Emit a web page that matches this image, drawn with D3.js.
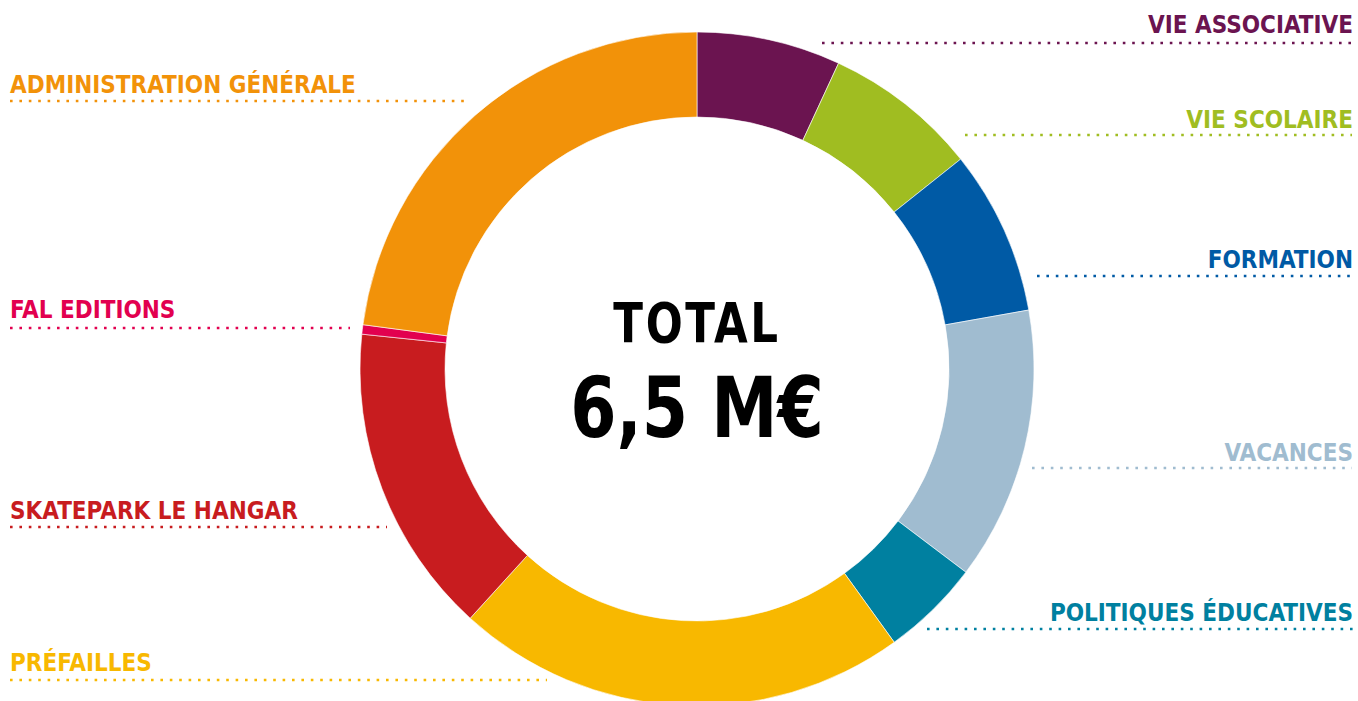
<!DOCTYPE html>
<html>
<head>
<meta charset="utf-8">
<script src="https://cdn.jsdelivr.net/npm/d3@7"></script>
<style>
  body { margin: 0; background: #fff; }
  svg { display: block; }
  text { font-family: "DejaVu Sans Condensed", "DejaVu Sans", sans-serif; font-weight: bold; }
</style>
</head>
<body>
<div class="container"></div>
<script>
// budget split, clockwise from 12 o'clock (share of total, %)
const categories = ["VIE ASSOCIATIVE", "VIE SCOLAIRE", "FORMATION", "VACANCES",
    "POLITIQUES ÉDUCATIVES", "PRÉFAILLES", "SKATEPARK LE HANGAR", "FAL EDITIONS",
    "ADMINISTRATION GÉNÉRALE"];
const values = [6.9, 7.4, 7.9, 13.1, 4.75, 21.7, 14.9, 0.45, 22.9];
const colors = ["#6b1450", "#a0bd21", "#005aa5", "#a0bcd0", "#0080a0", "#f8b800",
    "#c81c1f", "#e2004f", "#f29209"];
const totalLabel = ["TOTAL", "6,5 M€"];

// label layout: side, text baseline, dotted line y, line start / end
const labelLayout = [
    {side: "right", y: 33, ly: 43, x0: 822, x1: 1352},
    {side: "right", y: 128, ly: 135, x0: 965, x1: 1352},
    {side: "right", y: 268, ly: 276, x0: 1037, x1: 1352},
    {side: "right", y: 461, ly: 468, x0: 1032, x1: 1352},
    {side: "right", y: 621, ly: 629, x0: 927, x1: 1354},
    {side: "left", y: 671, ly: 680, x0: 10, x1: 547},
    {side: "left", y: 519, ly: 527, x0: 10, x1: 387},
    {side: "left", y: 318, ly: 328, x0: 10, x1: 350},
    {side: "left", y: 93, ly: 101, x0: 10, x1: 470}
];

const width = 1358,
    height = 701,
    cx = 697,
    cy = 369,
    outerR = 337,
    innerR = 252;

const data = categories.map((c, i) => ({name: c, value: values[i], color: colors[i], lay: labelLayout[i]}));

const svg = d3.select('.container').append('svg')
    .attr('width', width)
    .attr('height', height);

const pie = d3.pie().sort(null).value(d => d.value).startAngle(0).endAngle(2 * Math.PI);
const arc = d3.arc().innerRadius(innerR).outerRadius(outerR);

const donut = svg.append('g').attr('transform', `translate(${cx},${cy})`);
donut.selectAll('path').data(pie(data)).enter().append('path')
    .attr('d', arc)
    .attr('fill', d => d.data.color)
    .attr('stroke', '#fff')
    .attr('stroke-width', 0.6);

// centre total (condensed a bit to match the original typeface)
const centre = donut.append('g').attr('transform', 'scale(0.88,1)');
centre.append('text')
    .attr('text-anchor', 'middle')
    .attr('y', -27)
    .attr('font-size', '55px')
    .attr('letter-spacing', '3px')
    .attr('fill', '#000')
    .text(totalLabel[0]);
centre.append('text')
    .attr('text-anchor', 'middle')
    .attr('y', 68)
    .attr('font-size', '84px')
    .attr('fill', '#000')
    .text(totalLabel[1]);

// labels + dotted leaders
const labels = svg.append('g').selectAll('g').data(data).enter().append('g');

labels.append('line')
    .attr('x1', d => d.lay.x0)
    .attr('x2', d => d.lay.x1)
    .attr('y1', d => d.lay.ly)
    .attr('y2', d => d.lay.ly)
    .attr('stroke', d => d.color)
    .attr('stroke-width', 2.6)
    .attr('stroke-dasharray', '2.6,6.8');

labels.append('text')
    .attr('x', d => d.lay.side === "left" ? 10 : 1353)
    .attr('y', d => d.lay.y)
    .attr('text-anchor', d => d.lay.side === "left" ? 'start' : 'end')
    .attr('font-size', '24px')
    .attr('letter-spacing', '0px')
    .attr('fill', d => d.color)
    .text(d => d.name);
</script>
</body>
</html>
